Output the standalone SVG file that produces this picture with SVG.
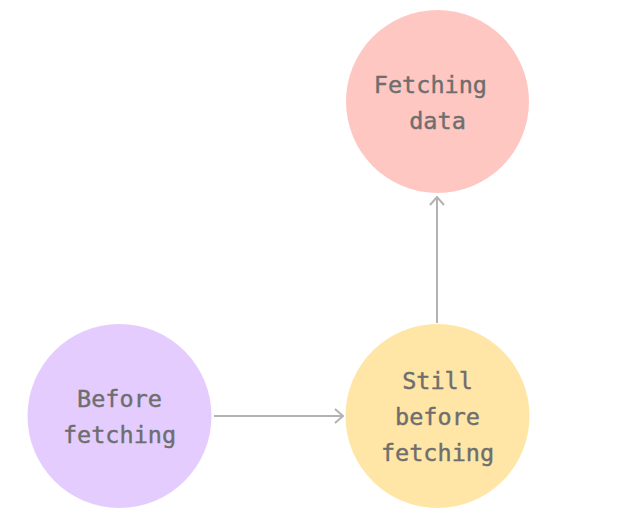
<svg xmlns="http://www.w3.org/2000/svg" width="621" height="531" viewBox="0 0 621 531">
<style>
.lbl{font-family:"DejaVu Sans Mono","Liberation Mono",monospace;font-size:23.5px;font-weight:normal;fill:#6e6e6e;text-anchor:middle;stroke:#6e6e6e;stroke-width:0.4}
.edge{stroke:#b3b3b3;stroke-width:2;fill:none}
</style>
<defs>
<marker id="arr" viewBox="0 0 10 16" refX="9" refY="8" markerWidth="10" markerHeight="16" markerUnits="userSpaceOnUse" orient="auto">
<path d="M1,1 L9,8 L1,15" fill="none" stroke="#b3b3b3" stroke-width="2"/>
</marker>
</defs>
<rect width="621" height="531" fill="#ffffff"/>
<g id="connectors">
<line class="edge" x1="214" y1="416" x2="343" y2="416" marker-end="url(#arr)"/>
<line class="edge" x1="437" y1="323" x2="437" y2="197" marker-end="url(#arr)"/>
</g>
<g id="fetching-data">
<circle cx="437.5" cy="101.5" r="91.5" fill="#ffc7c2"/>
<text class="lbl" x="437.5" y="93" xml:space="preserve">Fetching </text>
<text class="lbl" x="437.5" y="129">data</text>
</g>
<g id="before-fetching">
<circle cx="119.5" cy="416" r="92" fill="#e4ccff"/>
<text class="lbl" x="119.5" y="407">Before</text>
<text class="lbl" x="119.5" y="443">fetching</text>
</g>
<g id="still-before-fetching">
<circle cx="437.5" cy="416" r="92" fill="#ffe6a6"/>
<text class="lbl" x="437.5" y="389">Still</text>
<text class="lbl" x="437.5" y="425">before</text>
<text class="lbl" x="437.5" y="461">fetching</text>
</g>
</svg>
